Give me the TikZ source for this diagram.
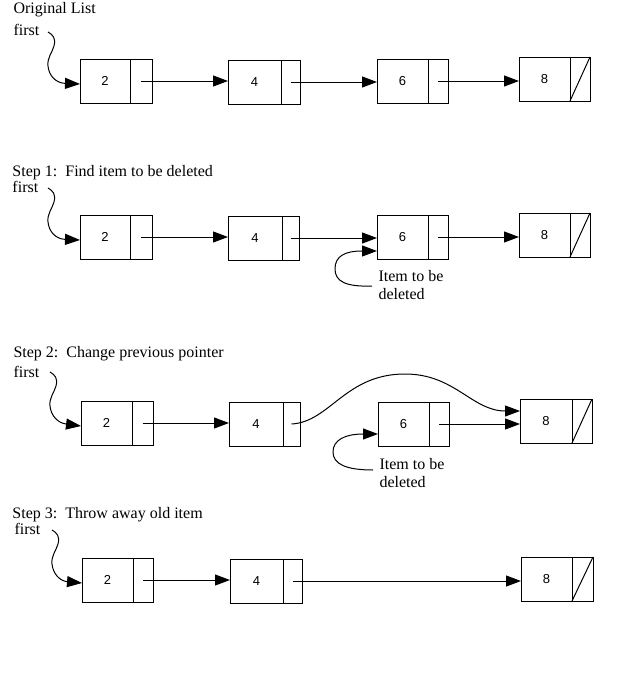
\documentclass[tikz,border=0pt]{standalone}
\usepackage{fontspec}
\setmainfont{Liberation Serif}
\newfontfamily\numfont{Liberation Sans}
\usetikzlibrary{arrows.meta,calc}
\newcommand\lnode[6]{%
  \node[datac, minimum width={(#4-#2)*1pt}, anchor=north west] (#1) at (#2,#3) {#6};
  \node[ptrc, minimum width={(#5-#4)*1pt}, anchor=west] (#1p) at (#1.east) {};}
\newcommand\firstarrow[2]{%
  \draw[arr] (#1) .. controls ($(#1)+(5,3)$) and ($(#1)+(8,6)$) .. ($(#1)+(6,14)$)
    .. controls ($(#1)+(4,21)$) and ($(#1)+(-1,26)$) .. ($(#1)+(0,34)$)
    .. controls ($(#1)+(1,44)$) and ($(#1)+(8,51)$) .. ([yshift=-3pt]#2.west);}
\begin{document}
\begin{tikzpicture}[x=1pt,y=-1pt,line width=1pt,
  txt/.style={font=\fontsize{16}{19}\selectfont, inner sep=0pt, anchor=base west},
  datac/.style={draw, minimum height=44pt, inner sep=0pt, outer sep=0pt, font=\numfont\fontsize{13}{15}\selectfont},
  ptrc/.style={draw, minimum height=44pt, inner sep=0pt, outer sep=0pt},
  arr/.style={-{Triangle[length=15pt,width=11pt]}}]
\fill[white] (0,0) rectangle (640,680);
% row 1
\lnode{a2}{80}{59}{130}{152}{2}
\lnode{a4}{228}{60}{281}{300}{4}
\lnode{a6}{377}{59}{428}{448}{6}
\lnode{a8}{519}{57}{570}{590}{8}
% row 2
\lnode{b2}{80}{215}{130}{152}{2}
\lnode{b4}{228}{216}{282}{299}{4}
\lnode{b6}{377}{215}{428}{448}{6}
\lnode{b8}{519}{213}{570}{590}{8}
% row 3
\lnode{c2}{81}{401}{132}{153}{2}
\lnode{c4}{229}{402}{283}{300}{4}
\lnode{c6}{378}{402}{429}{449}{6}
\lnode{c8}{520}{399}{572}{592}{8}
% row 4
\lnode{d2}{82}{558}{133}{153}{2}
\lnode{d4}{230}{559}{283}{302}{4}
\lnode{d8}{521}{557}{572}{593}{8}
% null slashes
\draw (a8p.south west) -- (a8p.north east);
\draw (b8p.south west) -- (b8p.north east);
\draw (c8p.south west) -- (c8p.north east);
\draw (d8p.south west) -- (d8p.north east);
% texts
\node[txt] (t1) at (13,13) {Original List};
\node[txt] (f1) at (13,35) {first};
\node[txt] (t2) at (12,176) {Step 1:~~Find item to be deleted};
\node[txt] (f2) at (12,192) {first};
\node[txt] (t3) at (13,357) {Step 2:~~Change previous pointer};
\node[txt] (f3) at (13,377) {first};
\node[txt] (t4) at (12,518) {Step 3:~~Throw away old item};
\node[txt] (f4) at (14,534) {first};
\node[txt] (i2a) at (378,281) {Item to be};
\node[txt] (i2b) at (378,299) {deleted};
\node[txt] (i3a) at (379,469) {Item to be};
\node[txt] (i3b) at (379,487) {deleted};
% first pointers
\coordinate (s1) at (48,32);
\coordinate (s2) at (48,188);
\coordinate (s3) at (50,372);
\coordinate (s4) at (52,530);
\firstarrow{s1}{a2}
\firstarrow{s2}{b2}
\firstarrow{s3}{c2}
\firstarrow{s4}{d2}
% next pointers
\draw[arr] (a2p.center) -- (a2p.center -| a4.west);
\draw[arr] (a4p.center) -- (a4p.center -| a6.west);
\draw[arr] (a6p.center) -- (a6p.center -| a8.west);
\draw[arr] (b2p.center) -- (b2p.center -| b4.west);
\draw[arr] (b4p.center) -- (b4p.center -| b6.west);
\draw[arr] (b6p.center) -- (b6p.center -| b8.west);
\draw[arr] (c2p.center) -- (c2p.center -| c4.west);
\draw[arr] (c6p.center) -- (c6p.center -| c8.west);
\draw[arr] (c4p.center) .. controls (330,422) and (345,374) .. (405,374)
  .. controls (455,374) and (472,411) .. ([yshift=10pt]c8.west);
\draw[arr] (d2p.center) -- (d2p.center -| d4.west);
\draw[arr] (d4p.center) -- (d4p.center -| d8.west);
% item to be deleted pointers
\coordinate (q2) at (372,286);
\draw[arr] (q2) .. controls (345,287) and (335,281) .. (335,269)
  .. controls (335,256) and (345,251) .. ([yshift=-14pt]b6.west);
\coordinate (q3) at (373,470);
\draw[arr] (q3) .. controls (346,470) and (333,464) .. (333,452)
  .. controls (333,440) and (345,434) .. ([yshift=-10pt]c6.west);
\end{tikzpicture}
\end{document}
